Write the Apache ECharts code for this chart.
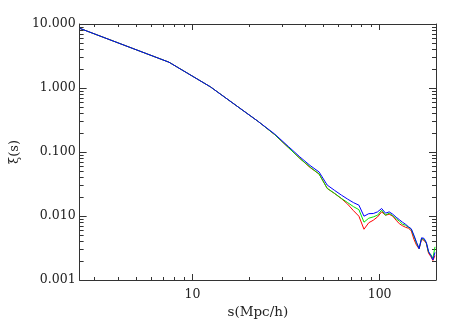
<!DOCTYPE html>
<html>
<head>
<meta charset="utf-8">
<script src="https://cdn.jsdelivr.net/npm/echarts@6/dist/echarts.min.js"></script>
<style>
  html, body { margin: 0; padding: 0; background: #fff; }
  #chart { width: 458px; height: 327px; }
</style>
</head>
<body>
<div id="chart"></div>
<script>
// separation bins, s in Mpc/h
var sBins = [2.5, 7.5, 12.5, 17.5, 22.5, 27.5, 32.5, 37.5, 42.5, 47.5,
             52.5, 57.5, 62.5, 67.5, 72.5, 77.5, 82.5, 87.5, 92.5, 97.5,
             102.5, 107.5, 112.5, 117.5, 122.5, 127.5, 132.5, 137.5, 142.5, 147.5,
             152.5, 157.5, 162.5, 167.5, 172.5, 177.5, 182.5, 187.5, 192.5, 197.5];

var xiRed = [8.57, 2.53, 1.04, 0.509, 0.299, 0.187, 0.118, 0.0794, 0.0573, 0.0453,
             0.027, 0.0224, 0.01869, 0.01532, 0.01211, 0.00993, 0.00621, 0.00785, 0.00859, 0.00968,
             0.0116, 0.0103, 0.01067, 0.00993, 0.00859, 0.00757, 0.00704, 0.00667, 0.00644, 0.00588,
             0.00432, 0.00348, 0.00307, 0.00432, 0.00417, 0.00374, 0.00261, 0.00234, 0.00202, 0.0024];

var xiGreen = [8.57, 2.53, 1.04, 0.509, 0.299, 0.187, 0.118, 0.0794, 0.0583, 0.0453,
               0.027, 0.02255, 0.01882, 0.01618, 0.014, 0.01256, 0.008, 0.00924, 0.00968, 0.0103,
               0.01233, 0.0103, 0.01107, 0.01011, 0.00907, 0.00829, 0.00743, 0.00717, 0.00667, 0.00621,
               0.00482, 0.00374, 0.00312, 0.00448, 0.00432, 0.00381, 0.0027, 0.00251, 0.00218, 0.0033];

var xiBlue = [8.57, 2.53, 1.04, 0.509, 0.299, 0.191, 0.1225, 0.0838, 0.0616, 0.0487,
              0.0304, 0.0251, 0.0212, 0.01835, 0.01618, 0.01478, 0.00993, 0.01087, 0.01094, 0.0116,
              0.0131, 0.01107, 0.0116, 0.01067, 0.00958, 0.00875, 0.00799, 0.00743, 0.00679, 0.00632,
              0.005, 0.00388, 0.00309, 0.00456, 0.00448, 0.00388, 0.0028, 0.00242, 0.00206, 0.0027];

var xMin = 2.5, xMax = 200;
var yMin = 0.001, yMax = 10;
var xMinor = [3, 4, 5, 6, 7, 8, 9, 20, 30, 40, 50, 60, 70, 80, 90];
var yMinor = [0.002, 0.003, 0.004, 0.005, 0.006, 0.007, 0.008, 0.009,
              0.02, 0.03, 0.04, 0.05, 0.06, 0.07, 0.08, 0.09,
              0.2, 0.3, 0.4, 0.5, 0.6, 0.7, 0.8, 0.9,
              2, 3, 4, 5, 6, 7, 8, 9];

var axisColor = '#333';
var font = 'DejaVu Serif';

function pairs(ys) {
    return sBins.map(function (s, i) { return [s, ys[i]]; });
}

function isDecade(v) {
    var l = Math.log10(v);
    return Math.abs(l - Math.round(l)) < 1e-6;
}

function tickLine(x1, y1, x2, y2) {
    return {
        type: 'line',
        shape: { x1: x1, y1: y1, x2: x2, y2: y2 },
        style: { stroke: axisColor, lineWidth: 1 }
    };
}

// IDL style minor ticks (2..9 per decade) on all four sides
function renderMinorX(params, api) {
    var v = api.value(0);
    var b = api.coord([v, yMin]);
    var t = api.coord([v, yMax]);
    var x = Math.round(b[0]) + 0.5;
    return {
        type: 'group',
        children: [tickLine(x, b[1], x, b[1] - 3), tickLine(x, t[1], x, t[1] + 3)]
    };
}

function renderMinorY(params, api) {
    var v = api.value(1);
    var l = api.coord([xMin, v]);
    var r = api.coord([xMax, v]);
    var y = Math.round(l[1]) + 0.5;
    return {
        type: 'group',
        children: [tickLine(l[0], y, l[0] + 4, y), tickLine(r[0], y, r[0] - 4, y)]
    };
}

var baseX = {
    type: 'log',
    min: xMin,
    max: xMax,
    axisLine: { lineStyle: { color: axisColor, width: 1 } },
    axisTick: { inside: true, length: 6, lineStyle: { color: axisColor } },
    splitLine: { show: false }
};
var baseY = {
    type: 'log',
    min: yMin,
    max: yMax,
    axisLine: { lineStyle: { color: axisColor, width: 1 } },
    axisTick: { inside: true, length: 7, lineStyle: { color: axisColor } },
    splitLine: { show: false }
};

var chart = echarts.init(document.getElementById('chart'));
chart.setOption({
    animation: false,
    backgroundColor: '#fff',
    grid: { left: 74, right: 22, top: 24, bottom: 47 },
    xAxis: [
        Object.assign({}, baseX, {
            position: 'bottom',
            name: 's(Mpc/h)',
            nameLocation: 'middle',
            nameGap: 22,
            nameTextStyle: { fontFamily: font, fontSize: 13.5, color: '#222' },
            axisLabel: {
                margin: 8,
                fontFamily: font,
                fontSize: 12.5,
                color: '#222',
                showMinLabel: false,
                showMaxLabel: false,
                formatter: function (v) { return isDecade(v) ? String(Math.round(v)) : ''; }
            }
        }),
        Object.assign({}, baseX, { position: 'top', axisLabel: { show: false } })
    ],
    yAxis: [
        Object.assign({}, baseY, {
            position: 'left',
            name: 'ξ(s)',
            nameLocation: 'middle',
            nameGap: 54,
            nameTextStyle: { fontFamily: font, fontSize: 13, color: '#222' },
            axisLabel: {
                margin: 4,
                fontFamily: font,
                fontSize: 12.5,
                color: '#222',
                showMinLabel: true,
                showMaxLabel: true,
                formatter: function (v) { return v.toFixed(3); }
            }
        }),
        Object.assign({}, baseY, { position: 'right', axisLabel: { show: false } })
    ],
    series: [
        {
            type: 'line', data: pairs(xiRed), showSymbol: false,
            lineStyle: { color: '#ff0000', width: 1 }, itemStyle: { color: '#ff0000' }
        },
        {
            type: 'line', data: pairs(xiGreen), showSymbol: false,
            lineStyle: { color: '#00e000', width: 1 }, itemStyle: { color: '#00e000' }
        },
        {
            type: 'line', data: pairs(xiBlue), showSymbol: false,
            lineStyle: { color: '#0000ff', width: 1 }, itemStyle: { color: '#0000ff' }
        },
        {
            type: 'custom', silent: true, clip: false,
            renderItem: renderMinorX,
            data: xMinor.map(function (v) { return [v, yMin]; })
        },
        {
            type: 'custom', silent: true, clip: false,
            renderItem: renderMinorY,
            data: yMinor.map(function (v) { return [xMin, v]; })
        }
    ]
});
</script>
</body>
</html>
